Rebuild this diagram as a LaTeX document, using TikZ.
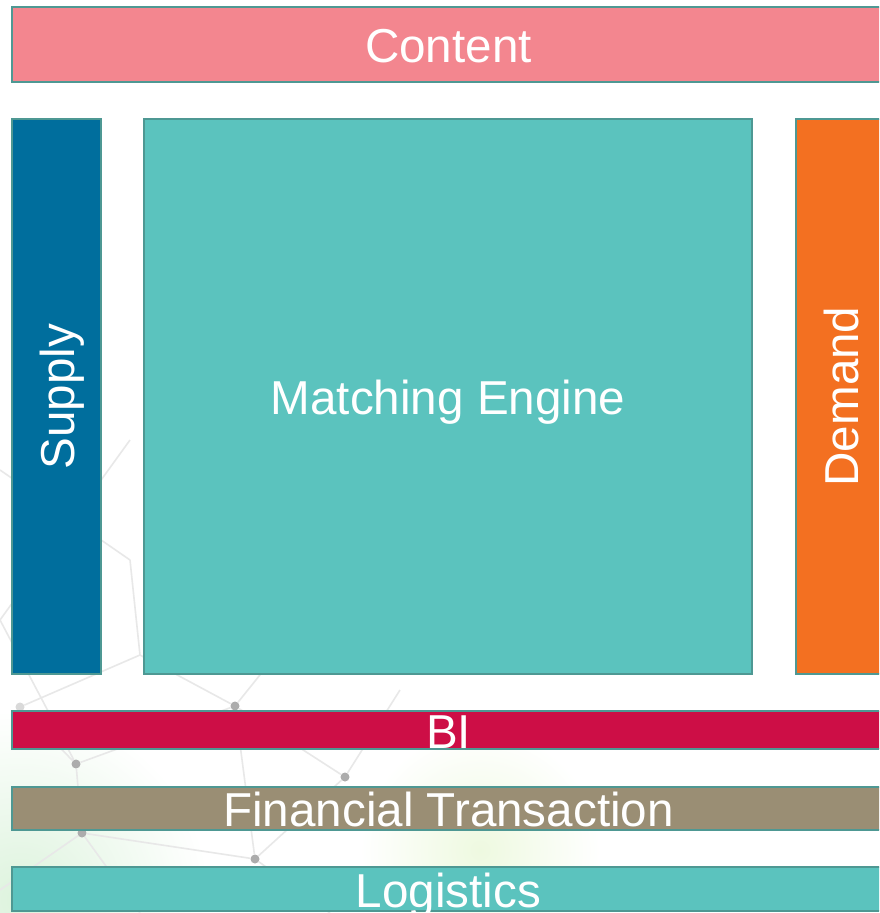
\documentclass[tikz,border=0pt]{standalone}
\usepackage{fontspec}
\setmainfont{Liberation Sans}
\definecolor{contentc}{HTML}{F3868F}
\definecolor{supplyc}{HTML}{006E9D}
\definecolor{matchc}{HTML}{5BC3BE}
\definecolor{demandc}{HTML}{F37021}
\definecolor{bic}{HTML}{CD0E46}
\definecolor{finc}{HTML}{9A8E74}
\definecolor{bordc}{HTML}{4E9893}
\definecolor{glowc}{HTML}{DDF3DD}
\definecolor{glowy}{HTML}{EEF9E0}
\begin{document}
\begin{tikzpicture}[x=1pt,y=-1pt,
  box/.style={draw=bordc, line width=2pt, inner sep=0pt, text=white,
    font=\fontsize{47.6}{50}\selectfont, text height=36.6pt, text depth=0pt},
  net/.style={gray!18, line width=1.6pt},
  netdot/.style={circle, fill=gray!65, inner sep=0pt, minimum size=9pt}]
\useasboundingbox (0,0) rectangle (879,913);
\clip (0,0) rectangle (879,913);
\fill[white] (0,0) rectangle (879,913);
% faint background glow
\shade[inner color=glowc, outer color=white] (20,900) circle (190pt);
\shade[inner color=glowy, outer color=white] (480,850) circle (120pt);
% faint background network
\node[netdot] (n1) at (235,706) {};
\node[netdot] (n2) at (76,764) {};
\node[netdot] (n3) at (345,777) {};
\node[netdot] (n4) at (82,833) {};
\node[netdot] (n5) at (255,859) {};
\node[netdot, fill=gray!30] (n6) at (20,707) {};
\coordinate (p1) at (140,655);
\coordinate (p2) at (280,650);
\coordinate (p3) at (0,620);
\coordinate (p4) at (400,690);
\coordinate (p5) at (0,890);
\coordinate (p6) at (140,913);
\coordinate (p7) at (330,913);
\coordinate (p8) at (0,470);
\coordinate (p9) at (130,560);
\coordinate (p10) at (130,440);
\draw[net] (n1) -- (p1) (n1) -- (p2) (n1) -- (n2) (n1) -- (n5) (n1) -- (n3)
  (n2) -- (n6) (n2) -- (n4) (n2) -- (p3) (n3) -- (p4) (n3) -- (n5)
  (n4) -- (n5) (n4) -- (p5) (n4) -- (p6) (n5) -- (p7) (n6) -- (p1)
  (p8) -- (p9) (p3) -- (p10) (p9) -- (p1);
% boxes
\node[box, fill=contentc, minimum width=873pt, minimum height=75pt] (content) at (448.5,44.5) {Content};
\node[box, fill=supplyc, rotate=90, minimum width=555pt, minimum height=89pt] (supply) at (56.5,396.5) {Supply};
\node[box, fill=matchc, minimum width=608pt, minimum height=555pt] (match) at (448,396.5) {Matching Engine};
\node[box, fill=demandc, rotate=90, minimum width=555pt, minimum height=89pt] (demand) at (840.5,396.5) {Demand};
\node[box, fill=bic, minimum width=873pt, minimum height=38pt] (bi) at (448.5,730) {BI};
\node[box, fill=finc, minimum width=873pt, minimum height=43pt] (fin) at (448.5,808.5) {Financial Transaction};
\node[box, fill=matchc, minimum width=873pt, minimum height=44pt] (logi) at (448.5,889) {Logistics};
\end{tikzpicture}
\end{document}
